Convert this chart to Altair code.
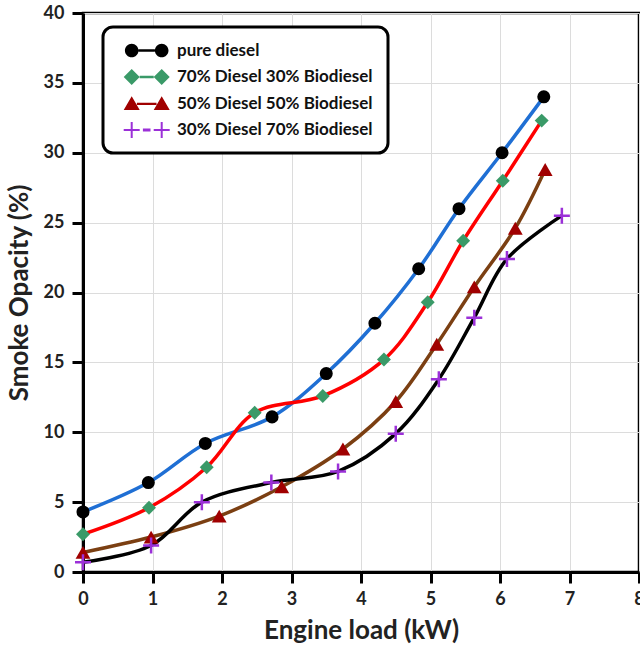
import altair as alt
import pandas as pd

series_names = ["pure diesel", "70% Diesel 30% Biodiesel",
                "50% Diesel 50% Biodiesel", "30% Diesel 70% Biodiesel"]

x_pure = [0, 0.94, 1.76, 2.72, 3.50, 4.20, 4.83, 5.41, 6.03, 6.63]
y_pure = [4.3, 6.4, 9.2, 11.1, 14.2, 17.8, 21.7, 26.0, 30.0, 34.0]

x_b30 = [0, 0.95, 1.78, 2.47, 3.45, 4.33, 4.96, 5.47, 6.04, 6.60]
y_b30 = [2.7, 4.6, 7.5, 11.4, 12.6, 15.2, 19.3, 23.7, 28.0, 32.3]

x_b50 = [0, 0.98, 1.96, 2.86, 3.74, 4.50, 5.09, 5.63, 6.22, 6.65]
y_b50 = [1.4, 2.5, 4.0, 6.1, 8.8, 12.2, 16.3, 20.4, 24.6, 28.8]

x_b70 = [0, 0.98, 1.71, 2.71, 3.67, 4.50, 5.12, 5.63, 6.10, 6.89]
y_b70 = [0.7, 1.9, 5.0, 6.4, 7.2, 9.9, 13.8, 18.2, 22.4, 25.5]

x_ticks = [0, 1, 2, 3, 4, 5, 6, 7, 8]
y_ticks = [0, 5, 10, 15, 20, 25, 30, 35, 40]

line_colors = ["#1F6FD4", "#FF0000", "#7B3F12", "#000000"]
marker_colors = ["#000000", "#3A9A68", "#A00000", "#9B30D8"]

rows = []
for name, xs, ys in zip(series_names, [x_pure, x_b30, x_b50, x_b70],
                        [y_pure, y_b30, y_b50, y_b70]):
    for i, (xv, yv) in enumerate(zip(xs, ys)):
        rows.append({"series": name, "load": xv, "opacity": yv, "idx": i})
df = pd.DataFrame(rows)

FONT = "Lato"

x_enc = alt.X("load:Q", scale=alt.Scale(domain=[0, 8], nice=False),
              axis=alt.Axis(values=x_ticks, title="Engine load (kW)",
                            labelFlush=False, tickSize=11, labelPadding=7,
                            titlePadding=9))
y_enc = alt.Y("opacity:Q", scale=alt.Scale(domain=[0, 40], nice=False),
              axis=alt.Axis(values=y_ticks, title="Smoke Opacity (%)",
                            tickSize=11, labelPadding=8, titlePadding=11))

base = alt.Chart(df)

lines = base.mark_line(interpolate="catmull-rom", strokeWidth=3.5).encode(
    x=x_enc, y=y_enc,
    stroke=alt.Stroke("series:N", scale=alt.Scale(domain=series_names, range=line_colors),
                      legend=None),
    order="idx:Q",
)

filled_names = series_names[:3]
pts = base.transform_filter(
    alt.FieldOneOfPredicate(field="series", oneOf=filled_names)
).mark_point(filled=True, opacity=1).encode(
    x=x_enc, y=y_enc,
    fill=alt.Fill("series:N", scale=alt.Scale(domain=filled_names, range=marker_colors[:3]),
                  legend=None),
    shape=alt.Shape("series:N", scale=alt.Scale(domain=filled_names,
                                                range=["circle", "diamond", "triangle-up"]),
                    legend=None),
    size=alt.Size("series:N", scale=alt.Scale(domain=filled_names, range=[170, 220, 210]),
                  legend=None),
)

crosses = base.transform_filter(
    alt.FieldEqualPredicate(field="series", equal=series_names[3])
).mark_point(shape="M -1 0 L 1 0 M 0 -1 L 0 1", size=256, filled=False,
             color=marker_colors[3], strokeWidth=2.5, opacity=1).encode(
    x=x_enc, y=y_enc,
)

leg_circle = ("M -0.2 0 A 0.85 0.85 0 1 0 1.5 0 A 0.85 0.85 0 1 0 -0.2 0 Z "
              "M 3.55 0 A 0.85 0.85 0 1 0 5.25 0 A 0.85 0.85 0 1 0 3.55 0 Z "
              "M 1.5 -0.15 L 3.55 -0.15 L 3.55 0.15 L 1.5 0.15 Z")
leg_diamond = ("M 0.65 -1.0 L 1.65 0 L 0.65 1.0 L -0.35 0 Z "
               "M 4.4 -1.0 L 5.4 0 L 4.4 1.0 L 3.4 0 Z "
               "M 1.65 -0.15 L 3.4 -0.15 L 3.4 0.15 L 1.65 0.15 Z")
leg_triangle = ("M 0.65 -0.9 L 1.65 0.8 L -0.35 0.8 Z "
                "M 4.4 -0.9 L 5.4 0.8 L 3.4 0.8 Z "
                "M 1.3 -0.1 L 3.75 -0.1 L 3.75 0.2 L 1.3 0.2 Z")
leg_plus = ("M 0.525 -1.0 L 0.775 -1.0 L 0.775 1.0 L 0.525 1.0 Z "
            "M -0.35 -0.125 L 1.65 -0.125 L 1.65 0.125 L -0.35 0.125 Z "
            "M 4.275 -1.0 L 4.525 -1.0 L 4.525 1.0 L 4.275 1.0 Z "
            "M 3.4 -0.125 L 5.4 -0.125 L 5.4 0.125 L 3.4 0.125 Z "
            "M 2.05 -0.2 L 3.0 -0.2 L 3.0 0.2 L 2.05 0.2 Z")

legend_def = alt.Legend(
    title=None, orient="none", legendX=20, legendY=14,
    padding=15, fillColor="white", strokeColor="black",
    labelFont=FONT, labelFontSize=17, labelFontWeight="bold",
    labelColor="#111111", labelOffset=42, rowPadding=8.5, symbolSize=256,
    symbolOpacity=1, symbolStrokeWidth=0, labelLimit=400,
)

leg_layer = base.mark_point(filled=True, size=256).encode(
    x=x_enc, y=y_enc,
    fill=alt.Fill("series:N", scale=alt.Scale(domain=series_names, range=marker_colors),
                  legend=legend_def),
    shape=alt.Shape("series:N", scale=alt.Scale(domain=series_names,
                                                range=[leg_circle, leg_diamond,
                                                       leg_triangle, leg_plus]),
                    legend=legend_def),
    opacity=alt.value(0),
)

chart = alt.layer(lines, pts, crosses, leg_layer).resolve_scale(
    fill="independent", shape="independent", size="independent", stroke="independent"
).properties(
    width=556, height=559,
    autosize=alt.AutoSizeParams(type="none"),
    padding={"left": 83, "top": 13, "right": 1, "bottom": 77},
    background="white",
).configure_view(
    stroke="black", strokeWidth=2.5
).configure_legend(
    strokeWidth=3, cornerRadius=10
).configure_axis(
    grid=True, gridColor="#DCDCDC", gridWidth=1,
    domainColor="black", domainWidth=3,
    tickColor="black", tickWidth=3,
    labelFont=FONT, labelFontSize=18, labelFontWeight="bold", labelColor="#222222",
    titleFont=FONT, titleFontSize=26, titleFontWeight="bold", titleColor="#222222",
)

chart.save("out.html", embed_options={"renderer": "svg", "actions": False})
